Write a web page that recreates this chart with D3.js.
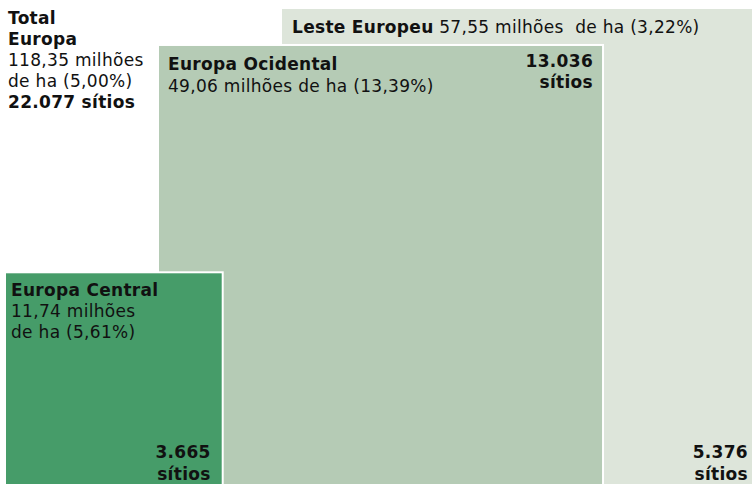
<!DOCTYPE html>
<html>
<head>
<meta charset="utf-8">
<script src="https://cdn.jsdelivr.net/npm/d3@7"></script>
<style>
  body { margin: 0; background: #fff; }
  svg { display: block; font-family: Verdana, "DejaVu Sans", sans-serif; }
  text { fill: #111; font-size: 17px; letter-spacing: 0.3px; }
  .b { font-weight: bold; }
</style>
</head>
<body>
<svg id="chart" width="752" height="484"></svg>
<script>
// Data (millions of hectares, share, number of sites)
var regions = ['Leste Europeu', 'Europa Ocidental', 'Europa Central'];
var hectares = [57.55, 49.06, 11.74];
var shares = ['3,22%', '13,39%', '5,61%'];
var sites = ['5.376', '13.036', '3.665'];
var totalLabel = ['Total', 'Europa'];
var totalHectares = 118.35;
var totalShare = '5,00%';
var totalSites = '22.077';

var width = 752, height = 484;
var baseY = 490;               // squares sit on a common baseline just below the frame
var leftX = [281, 158, 5];     // left edges of the squares
var colors = ['#dde5da', '#b5cbb5', '#469c69'];

var fmt = function(v) { return d3.format('.2f')(v).replace('.', ','); };

var side = d3.scaleSqrt()
    .domain([0, d3.max(hectares)])
    .range([0, 482]);

var svg = d3.select('#chart');

var items = regions.map(function(r, i) {
    var s = side(hectares[i]);
    return {name: r, ha: hectares[i], share: shares[i], sites: sites[i],
            x: leftX[i], y: baseY - s, s: s, color: colors[i]};
});

var g = svg.selectAll('g.region')
    .data(items)
    .enter()
    .append('g')
    .attr('class', 'region');

g.append('rect')
    .attr('x', function(d) { return d.x; })
    .attr('y', function(d) { return d.y; })
    .attr('width', function(d) { return d.s; })
    .attr('height', function(d) { return d.s; })
    .attr('fill', function(d) { return d.color; })
    .attr('stroke', '#fff')
    .attr('stroke-width', 2);

// Leste Europeu: single-line label on top
var leste = d3.select(g.nodes()[0]);
var lt = leste.append('text')
    .attr('x', items[0].x + 11)
    .attr('y', items[0].y + 25);
lt.append('tspan').attr('class', 'b').text(items[0].name);
lt.append('tspan').text(' ' + fmt(items[0].ha) + ' milhões\u00a0 de ha (' + items[0].share + ')');

// Europa Ocidental: two lines on the left, sites top-right
var oc = d3.select(g.nodes()[1]);
oc.append('text').attr('class', 'b')
    .attr('x', items[1].x + 10).attr('y', items[1].y + 25)
    .text(items[1].name);
oc.append('text')
    .attr('x', items[1].x + 10).attr('y', items[1].y + 47)
    .text(fmt(items[1].ha) + ' milhões de ha (' + items[1].share + ')');
oc.append('text').attr('class', 'b').attr('text-anchor', 'end')
    .attr('x', items[1].x + items[1].s - 10).attr('y', items[1].y + 22)
    .text(items[1].sites);
oc.append('text').attr('class', 'b').attr('text-anchor', 'end')
    .attr('x', items[1].x + items[1].s - 10).attr('y', items[1].y + 43)
    .text('sítios');

// Europa Central: three lines, sites bottom-right
var ce = d3.select(g.nodes()[2]);
[[items[2].name, true], [fmt(items[2].ha) + ' milhões', false], ['de ha (' + items[2].share + ')', false]]
    .forEach(function(l, j) {
        ce.append('text')
            .classed('b', l[1])
            .attr('x', items[2].x + 6)
            .attr('y', items[2].y + 24 + j * 21)
            .text(l[0]);
    });

// Sites at the bottom for Central and Leste
[items[2], items[0]].forEach(function(d) {
    var right = Math.min(d.x + d.s, width) - (d.x + d.s > width ? 4 : 12);
    svg.append('text').attr('class', 'b').attr('text-anchor', 'end')
        .attr('x', right).attr('y', baseY - 32).text(d.sites);
    svg.append('text').attr('class', 'b').attr('text-anchor', 'end')
        .attr('x', right).attr('y', baseY - 10).text('sítios');
});

// Total
var totalLines = [[totalLabel[0], true], [totalLabel[1], true],
    [fmt(totalHectares) + ' milhões', false], ['de ha (' + totalShare + ')', false],
    [totalSites + ' sítios', true]];
svg.selectAll('text.total')
    .data(totalLines)
    .enter()
    .append('text')
    .attr('class', function(d) { return d[1] ? 'total b' : 'total'; })
    .attr('x', 8)
    .attr('y', function(d, i) { return 24 + i * 21; })
    .text(function(d) { return d[0]; });
</script>
</body>
</html>
